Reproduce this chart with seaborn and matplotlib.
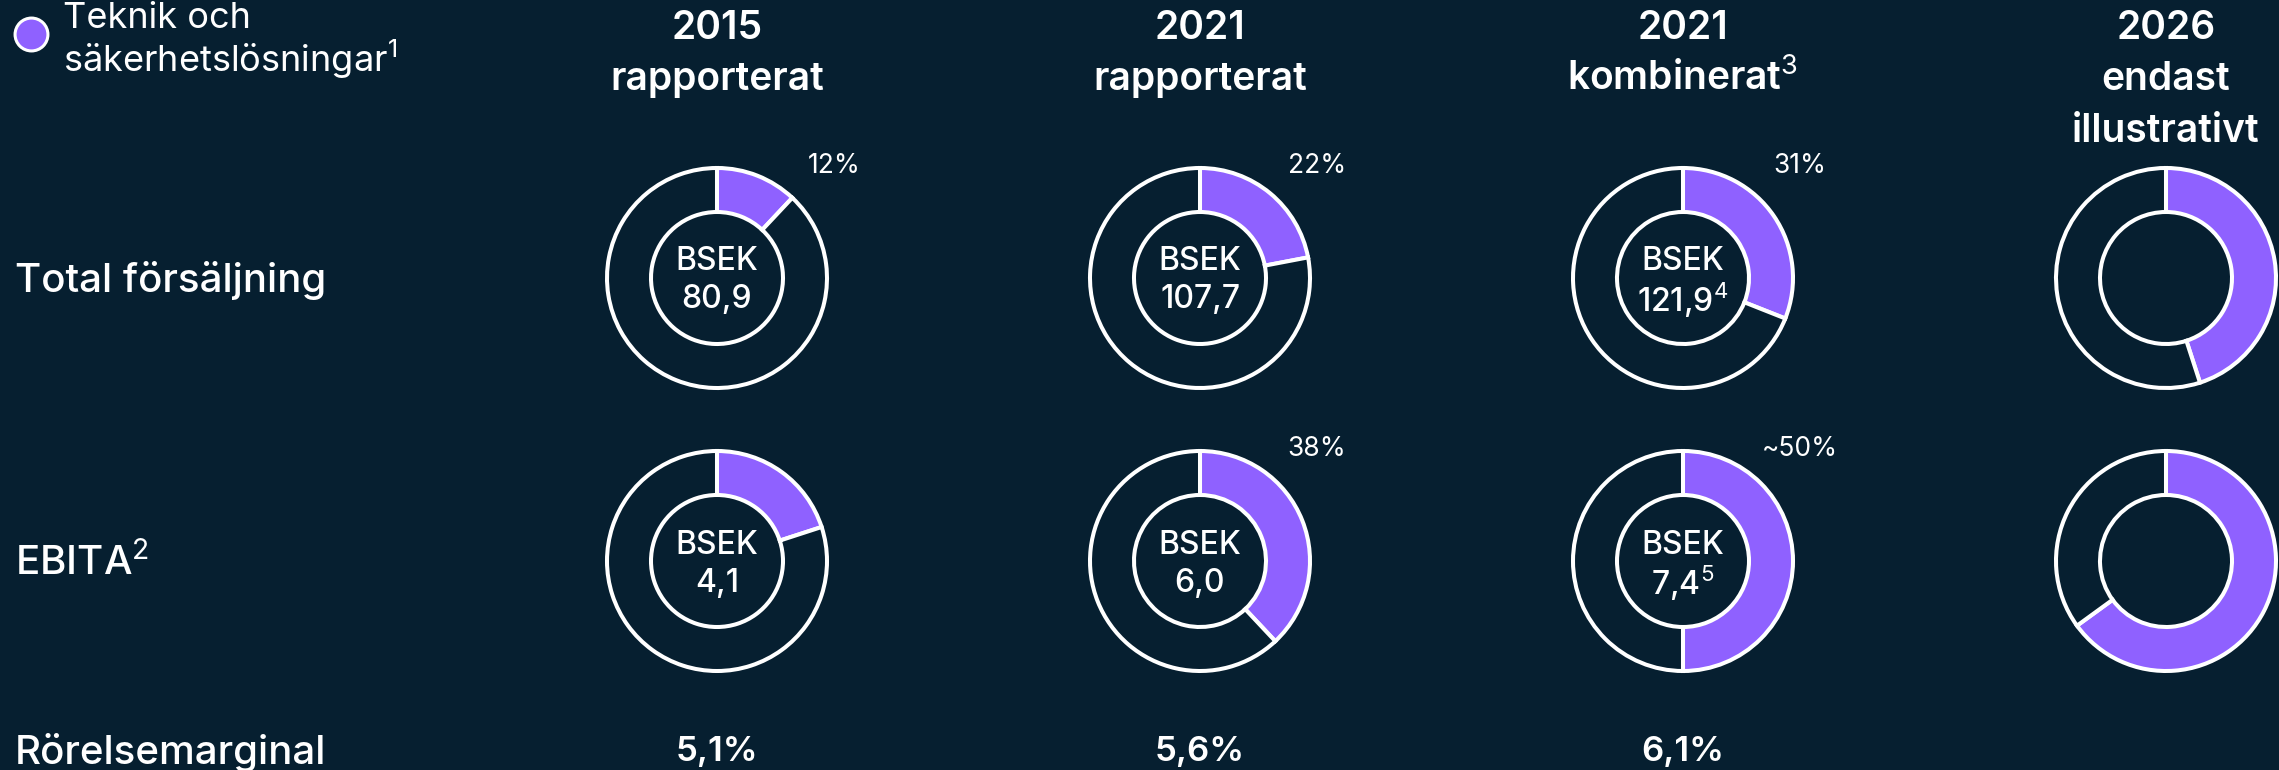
import matplotlib.pyplot as plt
import seaborn as sns

# data
years = ["2015", "2021", "2021", "2026"]
subtitles = ["rapporterat", "rapporterat", r"kombinerat$^{\mathrm{3}}$", "endast\nillustrativt"]
sales_share = [12, 22, 31, 45]
ebita_share = [20, 38, 50, 65]
sales_bsek = ["80,9", "107,7", r"121,9$^{\mathrm{4}}$", ""]
ebita_bsek = ["4,1", "6,0", r"7,4$^{\mathrm{5}}$", ""]
sales_labels = ["12%", "22%", "31%", ""]
ebita_labels = ["", "38%", "~50%", ""]
margins = ["5,1%", "5,6%", "6,1%", ""]
row_labels = ["Total försäljning", r"EBITA$^{\mathrm{2}}$", "Rörelsemarginal"]
legend_label = "Teknik och\nsäkerhetslösningar$^{\\mathrm{1}}$"

bg = "#061f30"
purple = "#8f61ff"
white = "#ffffff"

sns.set_theme(style="dark", rc={"figure.facecolor": bg, "axes.facecolor": bg})
plt.rcParams['font.family'] = ['Inter', 'DejaVu Sans']
plt.rcParams['mathtext.fontset'] = 'custom'
plt.rcParams['mathtext.rm'] = 'Inter'
plt.rcParams['mathtext.it'] = 'Inter'
plt.rcParams['mathtext.bf'] = 'Inter'

W, H = 2279, 770
fig = plt.figure(figsize=(W / 100, H / 100), dpi=100)
ax = fig.add_axes([0, 0, 1, 1])

col_x = [717 + i * 483 for i in range(len(years))]
row_y = [H - 278, H - 561]
r_out, r_in = 110, 66


def Y(y):
    return H - y


for i, x in enumerate(col_x):
    for share, cy in zip([sales_share[i], ebita_share[i]], row_y):
        ax.pie([share, 100 - share], colors=[purple, bg], startangle=90,
               counterclock=False, center=(x, cy), radius=r_out,
               wedgeprops=dict(width=r_out - r_in, edgecolor=white, linewidth=2.9))

    # headers
    ax.text(x, Y(39), years[i], ha="center", va="baseline", color=white,
            fontsize=28, fontweight="semibold")
    for k, line in enumerate(subtitles[i].split("\n")):
        ax.text(x, Y(90 + k * 52), line, ha="center", va="baseline", color=white,
                fontsize=28, fontweight="semibold")

    # centre texts
    for vals, cy in zip([sales_bsek, ebita_bsek], row_y):
        if vals[i]:
            ax.text(x, cy + 16, "BSEK", ha="center", va="center", color=white,
                    fontsize=23, fontweight="medium")
            ax.text(x, cy - 22, vals[i], ha="center", va="center", color=white,
                    fontsize=23, fontweight="medium")

    # share labels
    for labs, cy in zip([sales_labels, ebita_labels], row_y):
        if labs[i]:
            ax.text(x + 117, cy + 112, labs[i], ha="center", va="center",
                    color=white, fontsize=19)

    if margins[i]:
        ax.text(x, Y(752), margins[i], ha="center", va="center", color=white,
                fontsize=25, fontweight="semibold")

# row labels
for lab, y in zip(row_labels, [280, 563, 752]):
    ax.text(15, Y(y), lab, ha="left", va="center", color=white,
            fontsize=29, fontweight="medium")

# legend
ax.scatter([31], [Y(34)], s=560, color=purple, edgecolor=white, linewidth=2.2,
           zorder=5)
leg_lines = legend_label.split("\n")
ax.text(63, Y(28), leg_lines[0], ha="left", va="baseline",
        color=white, fontsize=26)
ax.text(63, Y(72), leg_lines[1], ha="left", va="baseline",
        color=white, fontsize=26)

ax.set_xlim(0, W)
ax.set_ylim(0, H)
ax.set_aspect("equal")
ax.axis("off")

fig.savefig("out.png", dpi=100, facecolor=bg)
